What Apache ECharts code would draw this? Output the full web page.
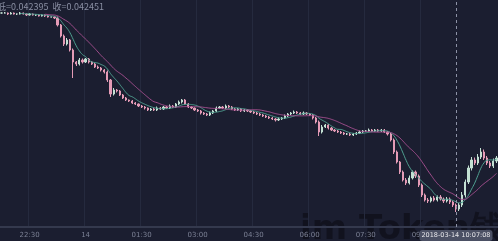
<!DOCTYPE html>
<html><head><meta charset="utf-8">
<script src="https://cdn.jsdelivr.net/npm/echarts@6/dist/echarts.min.js"></script>
<style>html,body{margin:0;padding:0;background:#1b1e30;}#c{width:498px;height:241px;}</style>
</head><body><div id="c"></div>
<script>
// 5-minute candles from 21:45 (2018-03-13) to 11:00 (2018-03-14)
var startMinutes = 21 * 60 + 45;
var stepMinutes = 5;
var closes = [
0.04634,0.04634,0.04632,0.04634,0.04632,0.04632,0.04634,0.04632,0.04630,0.04632,
0.04630,0.04630,0.04628,0.04630,0.04628,0.04626,0.04626,0.04624,0.04610,0.04588,
0.04572,0.04580,0.04560,0.04536,0.04532,0.04540,0.04536,0.04542,0.04536,0.04532,
0.04526,0.04524,0.04520,0.04516,0.04500,0.04472,0.04480,0.04478,0.04470,0.04464,
0.04460,0.04458,0.04454,0.04452,0.04448,0.04446,0.04444,0.04440,0.04442,0.04440,
0.04444,0.04442,0.04446,0.04444,0.04448,0.04446,0.04452,0.04456,0.04460,0.04452,
0.04446,0.04444,0.04440,0.04438,0.04434,0.04432,0.04430,0.04434,0.04438,0.04444,
0.04446,0.04444,0.04448,0.04446,0.04442,0.04440,0.04442,0.04438,0.04440,0.04438,
0.04436,0.04434,0.04432,0.04430,0.04428,0.04426,0.04424,0.04422,0.04420,0.04422,
0.04424,0.04428,0.04432,0.04434,0.04436,0.04434,0.04432,0.04434,0.04432,0.04430,
0.04424,0.04416,0.04396,0.04406,0.04410,0.04404,0.04400,0.04398,0.04396,0.04394,
0.04392,0.04392,0.04390,0.04392,0.04394,0.04396,0.04398,0.04398,0.04400,0.04398,
0.04400,0.04398,0.04400,0.04396,0.04392,0.04380,0.04356,0.04336,0.04316,0.04300,
0.04294,0.04304,0.04316,0.04308,0.04290,0.04270,0.04260,0.04258,0.04264,0.04260,
0.04266,0.04262,0.04258,0.04262,0.04256,0.04250,0.04242,0.04250,0.04270,0.04296,
0.04324,0.04340,0.04334,0.04346,0.04356,0.04344,0.04334,0.04328,0.04338,0.04344
];
var firstOpen = 0.04634;
// wick extents beyond the body, in units of 0.00001
var wickUp = [
1,2,1,2,1,1,2,1,1,2, 1,1,2,1,1,2,1,1,3,2, 3,4,2,3,2,4,3,2,2,2,
2,3,2,2,3,2,4,2,2,2, 2,1,2,2,1,2,2,1,2,2, 3,2,2,2,3,2,2,3,2,2,
2,2,1,2,2,2,2,3,2,3, 2,2,3,2,2,2,2,2,2,2, 2,2,2,2,2,2,2,2,2,3,
2,3,2,2,3,2,2,3,2,2, 2,2,3,4,2,2,2,2,2,2, 2,2,2,2,2,3,2,2,3,2,
2,2,2,2,2,2,3,3,2,3, 4,5,3,3,3,3,3,4,3,4, 3,4,3,4,3,3,3,4,6,5,
5,6,5,6,8,5,4,4,5,4
];
var wickDown = [
1,1,2,1,1,2,1,1,2,1, 1,2,1,1,2,1,1,2,3,3, 4,3,3,32,4,3,3,2,3,2,
2,2,3,3,4,6,3,3,2,2, 2,2,2,2,2,2,3,2,2,2, 2,2,2,2,2,2,2,2,3,2,
2,2,2,2,3,2,2,2,2,2, 2,2,2,2,2,2,2,2,2,2, 2,2,2,2,2,2,2,2,3,2,
2,2,2,2,2,2,2,2,2,2, 3,3,8,3,2,3,2,2,2,2, 2,2,2,2,2,2,2,2,2,2,
2,2,2,2,3,3,4,3,4,3, 4,3,3,4,4,4,3,4,3,3, 3,3,4,3,4,4,6,4,4,5,
4,5,4,4,4,4,4,4,4,4
];
var tickTimes = ['22:30','00:00','01:30','03:00','04:30','06:00','07:30','09:00'];
var tickLabels = ['22:30','14','01:30','03:00','04:30','06:00','07:30','09:00'];
var infoText = '低=0.042395  收=0.042451';
var pointerIndex = 146;
var pointerLabel = '2018-03-14 10:07:08';
var lastLinePrice = 0.04332;
var lowLinePrice = 0.04234;
var TICK = 0.00001;

function pad(n){return (n<10?'0':'')+n;}
var times = closes.map(function(_, i){
  var m = (startMinutes + i * stepMinutes) % 1440;
  return pad(Math.floor(m/60)) + ':' + pad(m%60);
});
var kdata = closes.map(function(c, i){
  var o = i === 0 ? firstOpen : closes[i-1];
  var hi = Math.max(o, c) + wickUp[i] * TICK;
  var lo = Math.min(o, c) - wickDown[i] * TICK;
  return [o, c, lo, hi];
});
function ma(n){
  return closes.map(function(_, i){
    if (i < n - 1) return '-';
    var s = 0; for (var k = i - n + 1; k <= i; k++) s += closes[k];
    return +(s / n).toFixed(6);
  });
}
function isTick(idx){ return tickTimes.indexOf(times[idx]) >= 0; }

var chart = echarts.init(document.getElementById('c'), null, {renderer:'canvas'});
chart.setOption({
  backgroundColor: '#1b1e30',
  animation: false,
  grid: {left: 0, right: 0, top: 0, bottom: 14, containLabel: false},
  xAxis: {
    type: 'category', data: times, boundaryGap: true,
    axisLine: {show: true, lineStyle: {color: '#34394d', width: 2}},
    axisTick: {show: false},
    axisLabel: {
      color: '#7b8094', fontSize: 7, margin: 5, fontFamily: 'DejaVu Sans',
      interval: function(idx){ return isTick(idx); },
      formatter: function(v){ var k = tickTimes.indexOf(v); return k >= 0 ? tickLabels[k] : ''; }
    },
    splitLine: {show: true, interval: function(idx){ return isTick(idx); }, lineStyle: {color: '#252a3e', width: 1}},
    axisPointer: {
      show: true, type: 'line', value: pointerIndex, status: 'show', snap: true,
      lineStyle: {color: '#8d92a6', type: [3, 3], width: 1},
      label: {show: true, formatter: function(){ return pointerLabel; }, backgroundColor: '#4b5064',
        color: '#e6e6ea', fontSize: 6.5, padding: [2, 2], margin: 3, fontFamily: 'DejaVu Sans'}
    }
  },
  yAxis: {
    type: 'value', min: 0.04206, max: 0.0466, show: false, splitLine: {show: false}
  },
  series: [
    {
      type: 'candlestick', data: kdata, barWidth: '55%',
      itemStyle: {color: '#c3e0d3', color0: '#e49bb6', borderColor: '#c3e0d3', borderColor0: '#e49bb6', borderWidth: 1},
      markLine: {
        silent: true, symbol: 'none', label: {show: false},
        data: [
          {yAxis: lastLinePrice, lineStyle: {color: '#6d7283', type: 'solid', width: 1}},
          {yAxis: lowLinePrice, lineStyle: {color: '#8d92a6', type: [3, 3], width: 1}}
        ]
      }
    },
    {type: 'line', data: ma(7), smooth: true, showSymbol: false, lineStyle: {color: '#4f9f90', width: 1}, z: 3},
    {type: 'line', data: ma(15), smooth: true, showSymbol: false, lineStyle: {color: '#a44f8f', width: 1}, z: 3}
  ],
  graphic: [
    {type: 'text', left: -3, top: 2, z: 10, style: {text: infoText, fill: '#8a8fa3', fontSize: 9, fontFamily: 'Noto Sans CJK SC'}},
    {type: 'text', right: -40, bottom: -6, z: 0, silent: true, style: {text: 'im Token钱包', fill: 'rgba(10,10,16,0.55)', fontSize: 34, fontWeight: 'bold', fontFamily: 'DejaVu Sans'}}
  ]
});
</script></body></html>
